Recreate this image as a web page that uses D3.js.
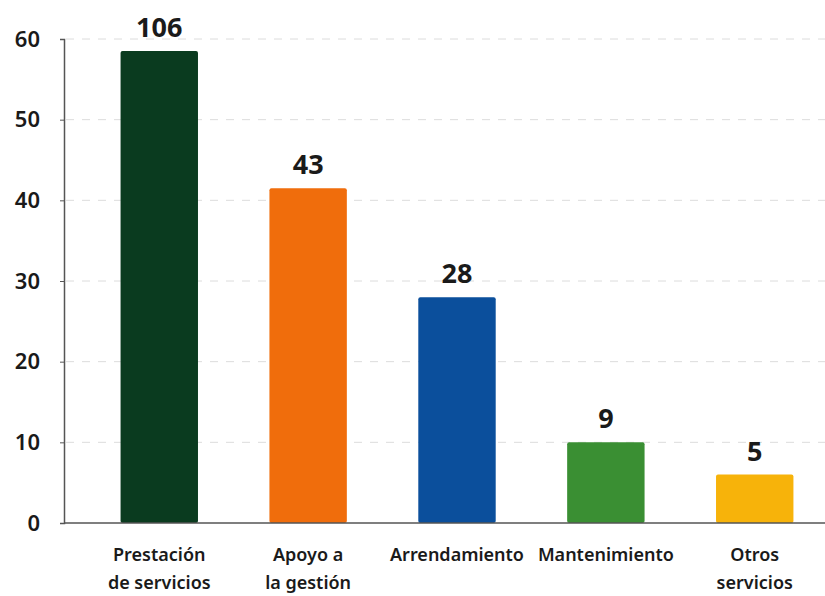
<!DOCTYPE html>
<html><head><meta charset="utf-8">
<script src="https://cdn.jsdelivr.net/npm/d3@7/dist/d3.min.js"></script>
<style>body{margin:0;background:#fff}svg{display:block}</style>
</head><body>
<script>
const categories = [["Prestación","de servicios"],["Apoyo a","la gestión"],["Arrendamiento"],["Mantenimiento"],["Otros","servicios"]];
const barHeights = [58.5, 41.5, 28, 10, 6];
const valueLabels = ["106", "43", "28", "9", "5"];
const colors = ["#0a3b1f", "#f06d0c", "#0b4f9c", "#3a8f33", "#f7b30a"];
const yTicks = [0, 10, 20, 30, 40, 50, 60];

const W = 825, H = 596;
const svg = d3.select("body").append("svg").attr("width", W).attr("height", H);
const font = "'Noto Sans', 'Open Sans', sans-serif";

const y = d3.scaleLinear().domain([0, 60]).range([523, 39]);
const x = d3.scaleBand().domain(d3.range(categories.length)).range([64, 850]).paddingInner(0.48).paddingOuter(0.38);

// gridlines
svg.append("g").selectAll("line").data(yTicks.filter(t => t > 0)).join("line")
  .attr("x1", 66).attr("x2", W).attr("y1", d => y(d)).attr("y2", d => y(d))
  .attr("stroke", "#dcdcdc").attr("stroke-width", 1).attr("stroke-dasharray", "8,8");

// y axis
const yAxis = svg.append("g").attr("transform", "translate(64,0)")
  .call(d3.axisLeft(y).tickValues(yTicks).tickSize(4).tickPadding(20));
yAxis.select(".domain").attr("stroke", "#555").attr("stroke-width", 1.5);
yAxis.selectAll(".tick line").attr("stroke", "#555");
yAxis.selectAll(".tick text").attr("font-family", font).attr("font-size", 22).attr("font-weight", 600).attr("fill", "#1a1a1a");

// bars
svg.append("g").selectAll("rect").data(barHeights).join("rect")
  .attr("x", (d, i) => x(i)).attr("width", x.bandwidth())
  .attr("y", d => y(d)).attr("height", d => y(0) - y(d))
  .attr("rx", 2).attr("fill", (d, i) => colors[i]);

// x axis line
svg.append("line").attr("x1", 64).attr("x2", W).attr("y1", y(0)).attr("y2", y(0))
  .attr("stroke", "#555").attr("stroke-width", 1.5);

// value labels
svg.append("g").selectAll("text").data(barHeights).join("text")
  .attr("x", (d, i) => x(i) + x.bandwidth() / 2).attr("y", d => y(d) - 14)
  .attr("text-anchor", "middle").attr("font-family", font).attr("font-size", 27).attr("font-weight", 700)
  .attr("fill", "#1a1a1a").text((d, i) => valueLabels[i]);

// category labels
const cg = svg.append("g").selectAll("text").data(categories).join("text")
  .attr("x", (d, i) => x(i) + x.bandwidth() / 2).attr("y", 561)
  .attr("text-anchor", "middle").attr("font-family", font).attr("font-size", 18).attr("font-weight", 600)
  .attr("fill", "#1a1a1a");
cg.selectAll("tspan").data(d => d).join("tspan")
  .attr("x", function() { return d3.select(this.parentNode).attr("x"); })
  .attr("dy", (d, j) => j === 0 ? 0 : 28).text(d => d);
</script>
</body></html>
